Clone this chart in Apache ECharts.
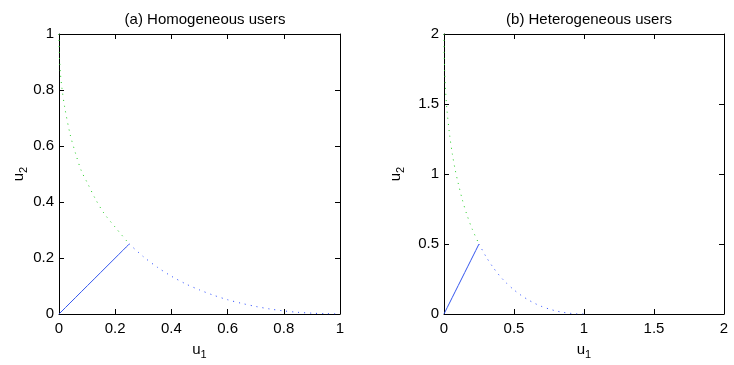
<!DOCTYPE html>
<html><head><meta charset="utf-8">
<script src="https://cdn.jsdelivr.net/npm/echarts@6/dist/echarts.min.js"></script>
<style>html,body{margin:0;padding:0;background:#fff}#c{width:734px;height:365px}</style>
</head><body><div id="c"></div>
<script>
// ---- Data ----
const titles = ['(a) Homogeneous users', '(b) Heterogeneous users'];
// Panel (a)
const aGreenX = [0, 0.001, 0.002, 0.005, 0.01, 0.02, 0.04, 0.06, 0.08, 0.1, 0.13, 0.16, 0.2, 0.25];
const aGreenY = [1, 0.94, 0.91, 0.86, 0.81, 0.74, 0.64, 0.57, 0.51, 0.47, 0.41, 0.36, 0.31, 0.25];
const aBlueX = [0.25, 0.3, 0.35, 0.4, 0.45, 0.5, 0.55, 0.6, 0.65, 0.7, 0.75, 0.8, 0.85, 0.9, 0.95, 1];
const aBlueY = [0.25, 0.205, 0.167, 0.135, 0.108, 0.086, 0.067, 0.051, 0.038, 0.027, 0.018, 0.011, 0.006, 0.003, 0.001, 0];
const aLineX = [0, 0.25];
const aLineY = [0, 0.25];
// Panel (b)
const bGreenX = [0, 0.001, 0.002, 0.005, 0.01, 0.02, 0.04, 0.06, 0.08, 0.1, 0.13, 0.16, 0.2, 0.25];
const bGreenY = [2, 1.88, 1.83, 1.73, 1.62, 1.47, 1.28, 1.14, 1.03, 0.94, 0.82, 0.72, 0.61, 0.5];
const bBlueX = [0.25, 0.3, 0.35, 0.4, 0.45, 0.5, 0.55, 0.6, 0.65, 0.7, 0.75, 0.8, 0.85, 0.9, 0.95, 1];
const bBlueY = [0.5, 0.41, 0.334, 0.27, 0.217, 0.172, 0.134, 0.102, 0.075, 0.053, 0.036, 0.022, 0.012, 0.005, 0.001, 0];
const bLineX = [0, 0.25];
const bLineY = [0, 0.5];
// Axes
const aMax = 1, aStep = 0.2;
const bMax = 2, bStep = 0.5;

const zip = (xs, ys) => xs.map((x, i) => [x, ys[i]]);
const FONT = '"Liberation Sans", Arial, Helvetica, sans-serif';
const grids = [
  {left: 59, top: 34, width: 281, height: 281},
  {left: 444, top: 34, width: 280, height: 281}
];
const nameRich = {
  a: {fontSize: 15, fontFamily: FONT, color: '#000'},
  b: {fontSize: 11, fontFamily: FONT, color: '#000', padding: [9, 0, 0, 0]}
};
function mkAxes(dim, gi, max, step, gap) {
  const main = {
    type: 'value', gridIndex: gi, min: 0, max: max, interval: step,
    position: dim === 'x' ? 'bottom' : 'left',
    axisLine: {show: true, onZero: false, lineStyle: {color: '#000', width: 1}},
    axisTick: {show: true, inside: true, length: 5, lineStyle: {color: '#000'}},
    axisLabel: {color: '#000', fontSize: 15, fontFamily: FONT, margin: dim === 'x' ? 7 : 5},
    splitLine: {show: false},
    name: '{a|u}{b|' + (dim === 'x' ? '1' : '2') + '}',
    nameLocation: 'middle', nameGap: gap,
    nameTextStyle: {rich: nameRich}
  };
  const opp = {
    type: 'value', gridIndex: gi, min: 0, max: max, interval: step,
    position: dim === 'x' ? 'top' : 'right',
    axisLine: {show: true, onZero: false, lineStyle: {color: '#000', width: 1}},
    axisTick: {show: true, inside: true, length: 5, lineStyle: {color: '#000'}},
    axisLabel: {show: false}, splitLine: {show: false}
  };
  return [main, opp];
}
const xAxes = [...mkAxes('x', 0, aMax, aStep, 26), ...mkAxes('x', 1, bMax, bStep, 26)];
const yAxes = [...mkAxes('y', 0, aMax, aStep, 30), ...mkAxes('y', 1, bMax, bStep, 38)];

function ser(data, xi, yi, color, dotted) {
  return {
    type: 'line', xAxisIndex: xi, yAxisIndex: yi, data: data,
    showSymbol: false, smooth: 0.3, animation: false, silent: true,
    lineStyle: {color: color, width: 1, type: dotted ? [1, 5] : 'solid'}
  };
}
const GREEN = '#22cc22', BLUE = '#2244ff', SOLID = '#3355ee';
const option = {
  animation: false,
  title: [
    {text: titles[0], left: 200, top: 7, textAlign: 'center', textStyle: {fontSize: 15, fontWeight: 'normal', fontFamily: FONT, color: '#000'}},
    {text: titles[1], left: 584, top: 7, textAlign: 'center', textStyle: {fontSize: 15, fontWeight: 'normal', fontFamily: FONT, color: '#000'}}
  ],
  grid: grids,
  xAxis: xAxes,
  yAxis: yAxes,
  series: [
    ser(zip(aGreenX, aGreenY), 0, 0, GREEN, true),
    ser(zip(aBlueX, aBlueY), 0, 0, BLUE, true),
    ser(zip(aLineX, aLineY), 0, 0, SOLID, false),
    ser(zip(bGreenX, bGreenY), 2, 2, GREEN, true),
    ser(zip(bBlueX, bBlueY), 2, 2, BLUE, true),
    ser(zip(bLineX, bLineY), 2, 2, SOLID, false)
  ]
};
echarts.init(document.getElementById('c'), null, {renderer: 'canvas'}).setOption(option);
</script></body></html>
